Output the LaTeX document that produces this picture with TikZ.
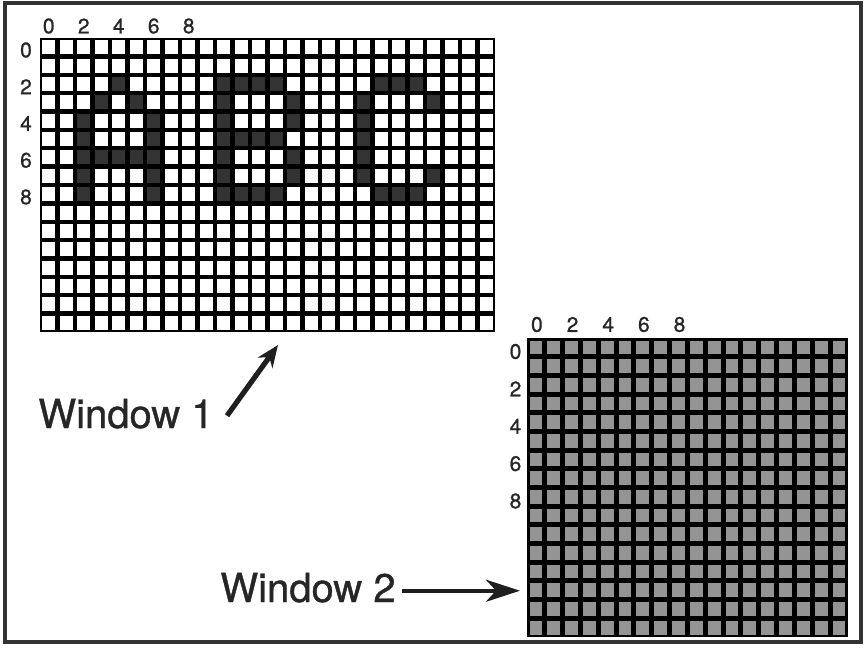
\documentclass[tikz,border=0pt]{standalone}
\usepackage{fontspec}
\setmainfont{TeX Gyre Heros}
\newfontfamily\heavyfont{TeX Gyre Heros}[FakeBold=0.9]
\usetikzlibrary{arrows.meta}
\tikzset{
  numlab/.style={font=\heavyfont\fontsize{10.5}{12}\selectfont,inner sep=0pt,text=black!85},
  winlab/.style={font=\heavyfont\fontsize{20}{24}\selectfont,inner sep=0pt,anchor=base west,text=black!85},
  pixon/.style={fill=black!80},
  pixoff/.style={fill=white},
  pixgray/.style={fill=black!42},
  winarrow/.style={line width=2.6pt,black!88,-{Stealth[length=11pt,width=9pt]}},
  winarrowb/.style={line width=2pt,black!88,-{Stealth[length=17pt,width=11pt,inset=5pt]}}
}
\begin{document}
\begin{tikzpicture}[x=0.5pt,y=-0.5pt]
\useasboundingbox (0,0) rectangle (866,647);
%frame
\draw[line width=2pt,black!80] (5,3) rectangle (861,642);

%window 1, 26 x 16 cells
\coordinate (w1nw) at (40,38);
\coordinate (w1se) at (495,332);
\fill[black] (w1nw) rectangle (w1se);
\foreach \c in {0,...,25}
  \foreach \r in {0,...,15}
    \fill[pixoff] ({40+17.5*\c+2.2},{38+18.375*\r+2.2}) rectangle ++(13.1,14);
% A B C
\foreach \c/\r in {4/2,3/3,5/3,2/4,6/4,2/5,6/5,2/6,3/6,4/6,5/6,6/6,2/7,6/7,2/8,6/8,
  10/2,11/2,12/2,13/2,10/3,14/3,10/4,14/4,10/5,11/5,12/5,13/5,10/6,14/6,10/7,14/7,10/8,11/8,12/8,13/8,
  19/2,20/2,21/2,18/3,22/3,18/4,18/5,18/6,18/7,22/7,19/8,20/8,21/8}
  \fill[pixon] ({40+17.5*\c+2.2},{38+18.375*\r+2.2}) rectangle ++(13.1,14);
\foreach \n in {0,2,4,6,8} {
  \node[numlab] (w1c\n) at ({48.75+17.5*\n},26) {\n};
  \node[numlab] (w1r\n) at (26,{50+18.375*\n}) {\n};
}

%window 2, 18 x 16 cells
\coordinate (w2nw) at (527,338);
\coordinate (w2se) at (848,637);
\fill[black] (w2nw) rectangle (w2se);
\foreach \c in {0,...,17}
  \foreach \r in {0,...,15}
    \fill[pixgray] ({527+17.83*\c+2.5},{338+18.69*\r+2.5}) rectangle ++(12.8,13.7);
\foreach \n in {0,2,4,6,8} {
  \node[numlab] (w2c\n) at ({536.9+17.83*\n},324.5) {\n};
  \node[numlab] (w2r\n) at (515.5,{351.5+18.69*\n}) {\n};
}

%labels
\node[winlab] (lab1) at (38,428) {Window 1};
\node[winlab] (lab2) at (220,602) {Window 2};
\coordinate (tip1) at (278,345);
\draw[winarrow] ([shift={(13,2)}]lab1.east) -- (tip1);
\draw[winarrowb] ([shift={(6,3)}]lab2.east) -- ([shift={(-7,3)}]lab2.east -| w2nw);
\end{tikzpicture}
\end{document}
